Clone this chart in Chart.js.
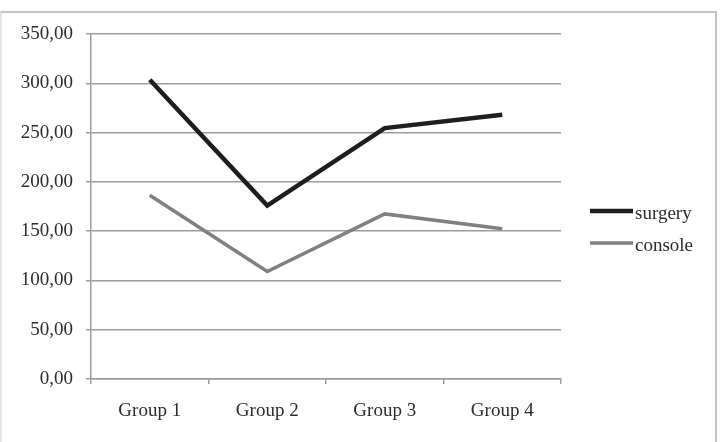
<!DOCTYPE html>
<html>
<head>
<meta charset="utf-8">
<script src="https://cdn.jsdelivr.net/npm/chart.js@4"></script>
<style>
  html, body { margin: 0; padding: 0; background: #fff; }
  #frame { position: absolute; left: 0; top: 11px; width: 713px; height: 440px;
           border: 2px solid #c4c4c4; border-left-color: #e4e4e4; }
  #wrap { position: absolute; left: 0; top: 0; width: 724px; height: 442px; }
</style>
</head>
<body>
<div id="frame"></div>
<div id="wrap"><canvas id="chart" width="724" height="442"></canvas></div>
<script>
// données
const groups = ['Group 1', 'Group 2', 'Group 3', 'Group 4'];
const surgery = [303.5, 176, 254.5, 268];
const consoleTime = [186.5, 109, 167.5, 152.5];
const yMax = 350;
const yStep = 50;

const FONT = { family: '"Liberation Serif", "Times New Roman", serif', size: 19 };
const TEXT_COLOR = '#2b2b2b';
const GRID_COLOR = '#9c9c9c';

// légende à droite, dessinée à la main pour coller au modèle
const sideLegend = {
  id: 'sideLegend',
  afterDraw(chart) {
    const ctx = chart.ctx;
    const area = chart.chartArea;
    ctx.save();
    chart.data.datasets.forEach((ds, i) => {
      const x0 = area.right + 29;
      const y = area.top + 177 + i * 32;
      ctx.beginPath();
      ctx.strokeStyle = ds.borderColor;
      ctx.lineWidth = ds.borderWidth;
      ctx.moveTo(x0, y);
      ctx.lineTo(x0 + 43, y);
      ctx.stroke();
      ctx.fillStyle = TEXT_COLOR;
      ctx.font = FONT.size + 'px ' + FONT.family;
      ctx.textBaseline = 'alphabetic';
      ctx.textAlign = 'left';
      ctx.fillText(ds.label, x0 + 45, y + 8);
    });
    ctx.restore();
  }
};

new Chart(document.getElementById('chart'), {
  type: 'line',
  data: {
    labels: groups,
    datasets: [
      { label: 'surgery', data: surgery, borderColor: '#1e1e1e', borderWidth: 4.5,
        pointRadius: 0, tension: 0, fill: false },
      { label: 'console', data: consoleTime, borderColor: '#808080', borderWidth: 3.5,
        pointRadius: 0, tension: 0, fill: false }
    ]
  },
  options: {
    responsive: false,
    animation: false,
    events: [],
    layout: { padding: { top: 34, right: 163, left: 0, bottom: 0 } },
    plugins: { legend: { display: false }, tooltip: { enabled: false } },
    scales: {
      x: {
        offset: true,
        grid: { offset: true, drawOnChartArea: false, drawTicks: true, tickLength: 5,
                color: GRID_COLOR, lineWidth: 1.5 },
        border: { display: true, color: GRID_COLOR, width: 1.5 },
        ticks: { color: TEXT_COLOR, font: FONT, padding: 16, maxRotation: 0 },
        afterFit(scale) { scale.height = 63; }
      },
      y: {
        min: 0,
        max: yMax,
        grid: { color: GRID_COLOR, lineWidth: 1.5, tickLength: 5 },
        border: { display: true, color: GRID_COLOR, width: 1.5 },
        ticks: {
          stepSize: yStep,
          color: TEXT_COLOR,
          font: FONT,
          padding: 13,
          callback: v => v.toFixed(2).replace('.', ',')
        },
        afterFit(scale) { scale.width = 91; }
      }
    }
  },
  plugins: [sideLegend]
});
</script>
</body>
</html>
